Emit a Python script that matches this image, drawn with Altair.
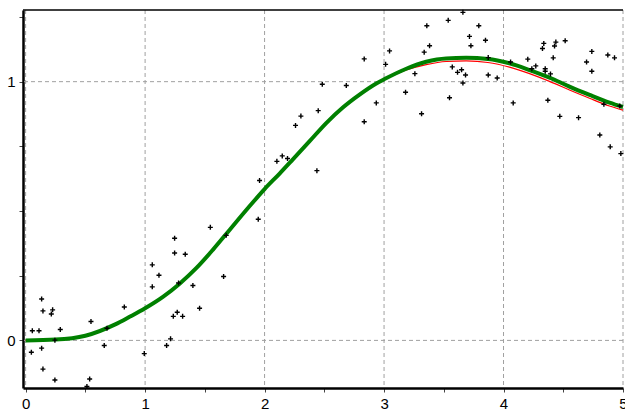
import altair as alt
import pandas as pd

X_MIN, X_MAX = -0.022, 5.0
Y_MIN, Y_MAX = -0.184, 1.277

# scattered observations
pts_x = [0.048, 0.056, 0.112, 0.134, 0.145, 0.134, 0.145, 0.215, 0.226, 0.245,
         0.245, 0.290, 0.513, 0.536, 0.547, 0.658, 0.681, 0.826, 0.993, 1.060,
         1.060, 1.116, 1.180, 1.213, 1.236, 1.269, 1.247, 1.247, 1.314, 1.336,
         1.280, 1.400, 1.456, 1.546, 1.679, 1.657, 1.947, 1.958, 2.103, 2.148,
         2.192, 2.259, 2.304, 2.449, 2.438, 2.483, 2.684, 2.834, 2.834, 2.935,
         3.013, 3.046, 3.180, 3.258, 3.314, 3.336, 3.381, 3.358, 3.537, 3.660,
         3.548, 3.571, 3.615, 3.649, 3.682, 3.660, 3.715, 3.727, 3.793, 3.849,
         3.872, 3.872, 3.947, 4.059, 4.081, 4.203, 4.237, 4.270, 4.326, 4.337,
         4.349, 4.349, 4.371, 4.393, 4.416, 4.427, 4.438, 4.516, 4.471, 4.628,
         4.695, 4.739, 4.739, 4.806, 4.873, 4.929, 4.840, 4.973, 4.893, 4.982]
pts_y = [-0.046, 0.037, 0.037, 0.160, 0.114, -0.030, -0.111, 0.102, 0.118, -0.153,
         0.001, 0.042, -0.178, -0.149, 0.073, -0.020, 0.047, 0.129, -0.051, 0.292,
         0.207, 0.252, -0.020, 0.006, 0.093, 0.109, 0.395, 0.338, 0.093, 0.333,
         0.222, 0.212, 0.124, 0.437, 0.406, 0.247, 0.468, 0.618, 0.692, 0.713,
         0.703, 0.831, 0.867, 0.888, 0.656, 0.990, 0.985, 1.088, 0.845, 0.918,
         1.067, 1.119, 0.959, 1.031, 0.876, 1.114, 1.139, 1.216, 1.237, 1.268,
         0.938, 1.057, 1.036, 1.046, 1.026, 0.995, 1.175, 1.139, 1.216, 1.160,
         1.026, 1.093, 1.014, 1.076, 0.918, 1.087, 1.050, 1.061, 1.128, 1.148,
         1.050, 1.040, 0.928, 1.030, 1.092, 1.138, 1.153, 1.158, 0.866, 0.861,
         1.076, 1.117, 1.040, 0.794, 1.103, 1.092, 0.913, 0.906, 0.748, 0.722]

# curves
curve_x = [0.0, 0.25, 0.5, 0.75, 0.87, 1.0, 1.149, 1.289, 1.428, 1.567, 1.707,
           1.847, 2.0, 2.126, 2.237, 2.377, 2.516, 2.655, 2.795, 2.935, 3.004,
           3.186, 3.353, 3.52, 3.688, 3.869, 4.05, 4.218, 4.385, 4.552, 4.72,
           4.887, 5.0]
green_y = [0.0, 0.003, 0.018, 0.062, 0.091, 0.124, 0.168, 0.219, 0.279, 0.350, 0.427,
           0.504, 0.585, 0.645, 0.700, 0.770, 0.840, 0.900, 0.950, 0.993, 1.010,
           1.050, 1.077, 1.090, 1.092, 1.088, 1.071, 1.045, 1.016, 0.981, 0.949,
           0.919, 0.902]
red_y = [0.0, 0.003, 0.018, 0.062, 0.091, 0.124, 0.168, 0.219, 0.279, 0.350, 0.427,
         0.504, 0.585, 0.645, 0.700, 0.770, 0.840, 0.900, 0.950, 0.992, 1.008,
         1.045, 1.066, 1.078, 1.080, 1.074, 1.056, 1.031, 1.001, 0.968, 0.936,
         0.906, 0.890]

grid_x = [0, 1, 2, 3, 4, 5]
grid_y = [0, 1]
tick_x = [0, 0.25, 0.5, 0.75, 1, 1.25, 1.5, 1.75, 2, 2.25, 2.5, 2.75, 3, 3.25,
          3.5, 3.75, 4, 4.25, 4.5, 4.75, 5]
tick_y = [0, 0.25, 0.5, 0.75, 1, 1.25]

pts = pd.DataFrame({"x": pts_x, "y": pts_y})
curves = pd.DataFrame({"x": curve_x, "green": green_y, "red": red_y})

xs = alt.Scale(domain=[X_MIN, X_MAX], nice=False, zero=False)
ys = alt.Scale(domain=[Y_MIN, Y_MAX], nice=False, zero=False)

common_axis = dict(grid=False, domainColor="black", domainWidth=2.5,
                   tickColor="#444444", tickSize=4, labelFont="Liberation Sans",
                   labelFontSize=15, labelColor="black", labelPadding=4,
                   labelOverlap=False, labelFlush=False, labelBound=False, title=None)

xaxis = alt.Axis(values=tick_x,
                 labelExpr="datum.value % 1 == 0 ? format(datum.value, 'd') : ''",
                 **common_axis)
yaxis = alt.Axis(values=tick_y,
                 labelExpr="datum.value % 1 == 0 ? format(datum.value, 'd') : ''",
                 **common_axis)

gx = alt.Chart(pd.DataFrame({"g": grid_x})).mark_rule(
    color="#a0a0a0", strokeDash=[4, 3], strokeWidth=1
).encode(x=alt.X("g:Q", scale=xs, axis=xaxis))

gy = alt.Chart(pd.DataFrame({"g": grid_y})).mark_rule(
    color="#a0a0a0", strokeDash=[4, 3], strokeWidth=1
).encode(y=alt.Y("g:Q", scale=ys, axis=yaxis))

top = alt.Chart(pd.DataFrame({"t": [Y_MAX]})).mark_rule(
    color="black", strokeWidth=1.3
).encode(y=alt.Y("t:Q", scale=ys))

red = alt.Chart(curves).mark_line(
    color="#ff0000", strokeWidth=1.2, interpolate="monotone"
).encode(x=alt.X("x:Q", scale=xs), y=alt.Y("red:Q", scale=ys))

green = alt.Chart(curves).mark_line(
    color="#008000", strokeWidth=4, interpolate="monotone"
).encode(x=alt.X("x:Q", scale=xs), y=alt.Y("green:Q", scale=ys))

points = alt.Chart(pts).mark_point(
    shape="M-1,0L1,0M0,-1L0,1", filled=False, stroke="black",
    strokeWidth=1.4, size=25, opacity=1
).encode(x=alt.X("x:Q", scale=xs), y=alt.Y("y:Q", scale=ys))

chart = alt.layer(gx, gy, top, red, green, points).properties(
    width=600, height=378,
    autosize=alt.AutoSizeParams(type="none"),
    padding={"left": 23, "top": 10, "right": 2, "bottom": 24},
    background="white",
).configure_view(stroke=None)

chart.save("out.html", embed_options={"renderer": "svg", "actions": False})
